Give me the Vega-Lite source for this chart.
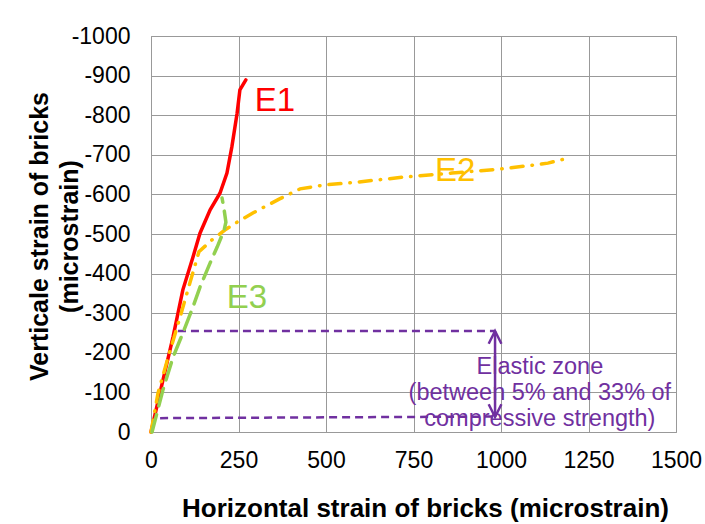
{
  "$schema": "https://vega.github.io/schema/vega-lite/v6.json",
  "width": 525,
  "height": 396,
  "autosize": {"type": "none"},
  "padding": {"left": 151, "top": 36, "right": 29, "bottom": 92},
  "background": "white",
  "config": {
    "view": {"stroke": "#999999", "strokeWidth": 1},
    "font": "Liberation Sans"
  },
  "datasets": {
    "curves": [
      {"s": "E1", "i": 0, "x": 0, "y": 0},
      {"s": "E1", "i": 1, "x": 30, "y": -115},
      {"s": "E1", "i": 2, "x": 63, "y": -240},
      {"s": "E1", "i": 3, "x": 91, "y": -359},
      {"s": "E1", "i": 4, "x": 120, "y": -442},
      {"s": "E1", "i": 5, "x": 140, "y": -502},
      {"s": "E1", "i": 6, "x": 169, "y": -561},
      {"s": "E1", "i": 7, "x": 197, "y": -603},
      {"s": "E1", "i": 8, "x": 217, "y": -654},
      {"s": "E1", "i": 9, "x": 231, "y": -720},
      {"s": "E1", "i": 10, "x": 246, "y": -805},
      {"s": "E1", "i": 11, "x": 254, "y": -864},
      {"s": "E1", "i": 12, "x": 271, "y": -889},
      {"s": "E2", "i": 0, "x": 0, "y": 0},
      {"s": "E2", "i": 1, "x": 20, "y": -98},
      {"s": "E2", "i": 2, "x": 49, "y": -189},
      {"s": "E2", "i": 3, "x": 83, "y": -290},
      {"s": "E2", "i": 4, "x": 111, "y": -376},
      {"s": "E2", "i": 5, "x": 137, "y": -455},
      {"s": "E2", "i": 6, "x": 174, "y": -485},
      {"s": "E2", "i": 7, "x": 211, "y": -510},
      {"s": "E2", "i": 8, "x": 246, "y": -530},
      {"s": "E2", "i": 9, "x": 291, "y": -553},
      {"s": "E2", "i": 10, "x": 366, "y": -588},
      {"s": "E2", "i": 11, "x": 426, "y": -614},
      {"s": "E2", "i": 12, "x": 497, "y": -624},
      {"s": "E2", "i": 13, "x": 589, "y": -631},
      {"s": "E2", "i": 14, "x": 726, "y": -644},
      {"s": "E2", "i": 15, "x": 860, "y": -654},
      {"s": "E2", "i": 16, "x": 997, "y": -664},
      {"s": "E2", "i": 17, "x": 1091, "y": -674},
      {"s": "E2", "i": 18, "x": 1134, "y": -679},
      {"s": "E2", "i": 19, "x": 1180, "y": -689},
      {"s": "E3", "i": 0, "x": 3, "y": 0},
      {"s": "E3", "i": 1, "x": 34, "y": -106},
      {"s": "E3", "i": 2, "x": 63, "y": -189},
      {"s": "E3", "i": 3, "x": 91, "y": -250},
      {"s": "E3", "i": 4, "x": 120, "y": -316},
      {"s": "E3", "i": 5, "x": 140, "y": -366},
      {"s": "E3", "i": 6, "x": 169, "y": -427},
      {"s": "E3", "i": 7, "x": 189, "y": -467},
      {"s": "E3", "i": 8, "x": 209, "y": -510},
      {"s": "E3", "i": 9, "x": 214, "y": -530},
      {"s": "E3", "i": 10, "x": 209, "y": -561},
      {"s": "E3", "i": 11, "x": 203, "y": -591}
    ],
    "zone": [
      {"line": "upper", "x": 77, "y": -255},
      {"line": "upper", "x": 983, "y": -255},
      {"line": "lower", "x": 26, "y": -35},
      {"line": "lower", "x": 983, "y": -39}
    ],
    "arrow": [
      {"x": 983, "ytop": -255, "ybot": -38}
    ],
    "labels": [
      {"s": "E1", "x": 354, "y": -836},
      {"s": "E2", "x": 869, "y": -659},
      {"s": "E3", "x": 274, "y": -338}
    ],
    "note": [
      {"t": "Elastic zone", "x": 1111, "y": -164},
      {"t": "(between 5% and 33% of", "x": 1111, "y": -98},
      {"t": "compressive strength)", "x": 1111, "y": -33}
    ]
  },
  "encoding": {
    "x": {
      "field": "x", "type": "quantitative",
      "scale": {"domain": [0, 1500], "nice": false, "zero": false},
      "axis": {
        "values": [0, 250, 500, 750, 1000, 1250, 1500],
        "format": "d",
        "title": "Horizontal strain of bricks (microstrain)",
        "domain": false, "ticks": false,
        "grid": true, "gridColor": "#999999", "gridWidth": 1, "gridOpacity": 1,
        "labelFontSize": 23, "labelColor": "#000000", "labelFont": "Liberation Sans",
        "labelPadding": 35, "labelBaseline": "alphabetic",
        "labelOverlap": false, "labelFlush": false,
        "titleFont": "Liberation Sans", "titleFontSize": 26, "titleFontWeight": "bold",
        "titleColor": "#000000", "titleX": 274, "titleY": 84, "titleBaseline": "alphabetic",
        "titleAnchor": "middle", "titleAlign": "center"
      }
    },
    "y": {
      "field": "y", "type": "quantitative",
      "scale": {"domain": [-1000, 0], "reverse": true, "nice": false, "zero": false},
      "axis": {
        "values": [0, -100, -200, -300, -400, -500, -600, -700, -800, -900, -1000],
        "labelExpr": "datum.value === 0 ? '0' : '-' + abs(datum.value)",
        "title": ["Verticale strain of bricks", "(microstrain)"],
        "domain": false, "ticks": false,
        "grid": true, "gridColor": "#999999", "gridWidth": 1, "gridOpacity": 1,
        "labelFontSize": 23, "labelColor": "#000000", "labelFont": "Liberation Sans",
        "labelPadding": 21, "labelOverlap": false, "labelFlush": false,
        "titleFont": "Liberation Sans", "titleFontSize": 25, "titleFontWeight": "bold",
        "titleColor": "#000000", "titleX": -99, "titleY": 200, "titleAngle": -90,
        "titleBaseline": "bottom", "titleAlign": "center", "titleLineHeight": 30
      }
    }
  },
  "layer": [
    {
      "data": {"name": "zone"},
      "mark": {"type": "line", "color": "#7030A0", "strokeWidth": 2.5, "strokeDash": [8, 5]},
      "encoding": {"detail": {"field": "line"}}
    },
    {
      "data": {"name": "curves"},
      "transform": [{"filter": "datum.s === 'E1'"}],
      "mark": {"type": "line", "color": "#FF0000", "strokeWidth": 3.5, "strokeCap": "round"},
      "encoding": {"order": {"field": "i", "type": "quantitative"}}
    },
    {
      "data": {"name": "curves"},
      "transform": [{"filter": "datum.s === 'E2'"}],
      "mark": {"type": "line", "color": "#FFC000", "strokeWidth": 3.5, "strokeCap": "round", "strokeDash": [12, 9, 0.5, 9]},
      "encoding": {"order": {"field": "i", "type": "quantitative"}}
    },
    {
      "data": {"name": "curves"},
      "transform": [{"filter": "datum.s === 'E3'"}],
      "mark": {"type": "line", "color": "#92D050", "strokeWidth": 3.5, "strokeCap": "round", "strokeDash": [18, 9]},
      "encoding": {"order": {"field": "i", "type": "quantitative"}}
    },
    {
      "data": {"name": "arrow"},
      "mark": {"type": "rule", "color": "#7030A0", "strokeWidth": 2.5},
      "encoding": {"y": {"field": "ytop", "type": "quantitative"}, "y2": {"field": "ybot"}}
    },
    {
      "data": {"name": "arrow"},
      "mark": {"type": "point", "shape": "M -0.5 1 L 0 0 L 0.5 1", "filled": false, "color": "#7030A0", "strokeWidth": 2.5, "size": 650, "opacity": 1},
      "encoding": {"y": {"field": "ytop", "type": "quantitative"}}
    },
    {
      "data": {"name": "arrow"},
      "mark": {"type": "point", "shape": "M -0.5 -1 L 0 0 L 0.5 -1", "filled": false, "color": "#7030A0", "strokeWidth": 2.5, "size": 650, "opacity": 1},
      "encoding": {"y": {"field": "ybot", "type": "quantitative"}}
    },
    {
      "data": {"name": "labels"},
      "mark": {"type": "text", "fontSize": 33, "font": "Liberation Sans", "align": "center", "baseline": "middle"},
      "encoding": {
        "text": {"field": "s"},
        "color": {"field": "s", "type": "nominal", "scale": {"domain": ["E1", "E2", "E3"], "range": ["#FF0000", "#FFC000", "#92D050"]}, "legend": null}
      }
    },
    {
      "data": {"name": "note"},
      "mark": {"type": "text", "fontSize": 23.5, "font": "Liberation Sans", "align": "center", "baseline": "middle", "color": "#7030A0"},
      "encoding": {"text": {"field": "t"}}
    }
  ]
}
